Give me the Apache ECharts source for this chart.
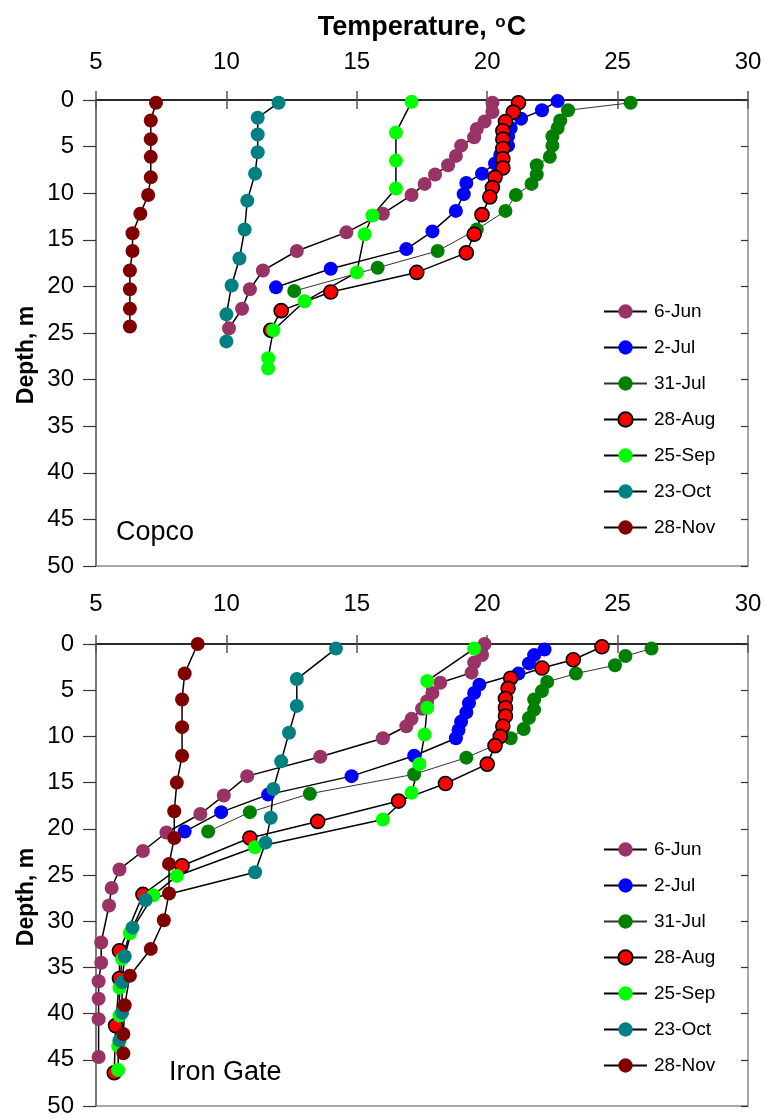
<!DOCTYPE html>
<html>
<head>
<meta charset="utf-8">
<script src="https://cdn.jsdelivr.net/npm/echarts@6/dist/echarts.min.js"></script>
<style>
html,body{margin:0;padding:0;background:#fff;}
#chart{width:765px;height:1118px;}
</style>
</head>
<body>
<div id="chart"></div>
<script>
// ---------- data ----------
const dates = ['6-Jun', '2-Jul', '31-Jul', '28-Aug', '25-Sep', '23-Oct', '28-Nov'];
const xTicks = [5, 10, 15, 20, 25, 30];
const yTicks = [0, 5, 10, 15, 20, 25, 30, 35, 40, 45, 50];

// Copco
const copco_jun06_depth = [0.3,1.3,2.3,3.1,4.0,4.9,6.0,7.0,8.0,9.0,10.2,12.2,14.2,16.2,18.3,20.3,22.4,24.5];
const copco_jun06_temp  = [20.2,20.2,19.9,19.6,19.5,19.0,18.8,18.5,18.0,17.6,17.1,16.0,14.6,12.7,11.4,10.9,10.6,10.1];
const copco_jul02_depth = [0.1,1.1,2.0,3.0,3.9,4.9,5.9,6.8,7.9,8.9,10.1,11.9,14.1,16.0,18.1,20.1];
const copco_jul02_temp  = [22.7,22.1,21.3,20.9,20.8,20.8,20.5,20.3,19.8,19.2,19.1,18.8,17.9,16.9,14.0,11.9];
const copco_jul31_depth = [0.3,1.1,2.2,3.0,3.9,4.9,6.1,7.0,8.0,9.0,10.2,11.9,13.9,16.2,18.0,20.5];
const copco_jul31_temp  = [25.5,23.1,22.8,22.7,22.5,22.5,22.4,21.9,21.9,21.7,21.1,20.7,19.6,18.1,15.8,12.6];
const copco_aug28_depth = [0.3,1.3,2.3,3.3,4.2,5.2,6.3,7.3,8.3,9.4,10.4,12.3,14.4,16.4,18.5,20.6,22.6,24.7];
const copco_aug28_temp  = [21.2,21.0,20.7,20.6,20.6,20.6,20.6,20.6,20.3,20.2,20.1,19.8,19.5,19.2,17.3,14.0,12.1,11.7];
const copco_sep25_depth = [0.2,3.5,6.5,9.5,12.4,14.4,18.5,21.6,24.7,27.7,28.8];
const copco_sep25_temp  = [17.1,16.5,16.5,16.5,15.6,15.3,15.0,13.0,11.8,11.6,11.6];
const copco_oct23_depth = [0.3,1.9,3.7,5.6,7.9,10.8,13.9,17.0,19.9,23.0,25.9];
const copco_oct23_temp  = [12.0,11.2,11.2,11.2,11.1,10.8,10.7,10.5,10.2,10.0,10.0];
const copco_nov28_depth = [0.3,2.2,4.2,6.1,8.3,10.2,12.2,14.3,16.2,18.3,20.3,22.4,24.3];
const copco_nov28_temp  = [7.3,7.1,7.1,7.1,7.1,7.0,6.7,6.4,6.4,6.3,6.3,6.3,6.3];

// Iron Gate
const ig_jun06_depth = [0.0,1.2,2.0,3.1,4.2,5.3,6.2,7.0,8.1,8.9,10.2,12.2,14.3,16.4,18.4,20.4,22.4,24.4,26.4,28.3,32.3,34.5,36.5,38.4,40.6,44.7];
const ig_jun06_temp  = [19.9,19.8,19.5,19.4,18.2,17.9,17.7,17.5,17.1,16.9,16.0,13.6,10.8,9.9,9.0,7.7,6.8,5.9,5.6,5.5,5.2,5.2,5.1,5.1,5.1,5.1];
const ig_jul02_depth = [0.6,1.2,2.1,3.2,4.4,5.3,6.4,7.4,8.4,9.3,10.2,12.1,14.3,16.3,18.2,20.3];
const ig_jul02_temp  = [22.2,21.8,21.6,21.2,19.7,19.5,19.3,19.2,19.0,18.9,18.8,17.2,14.8,11.6,9.8,8.4];
const ig_jul31_depth = [0.5,1.3,2.3,3.2,4.1,5.1,6.0,7.1,8.0,9.2,10.2,12.3,14.1,16.2,18.2,20.3];
const ig_jul31_temp  = [26.3,25.3,24.9,23.4,22.3,22.1,21.8,21.8,21.6,21.4,20.9,19.2,17.2,13.2,10.9,9.3];
const ig_aug28_depth = [0.3,1.7,2.6,3.7,4.8,5.9,6.9,7.8,8.9,10.0,11.0,13.0,15.1,17.0,19.2,21.0,24.0,27.1,33.2,36.2,41.3,46.4];
const ig_aug28_temp  = [24.4,23.3,22.1,20.9,20.8,20.7,20.7,20.7,20.6,20.5,20.3,20.0,18.4,16.6,13.5,10.9,8.3,6.8,5.9,5.9,5.75,5.7];
const ig_sep25_depth = [0.5,4.0,6.9,9.8,13.0,16.1,19.0,22.0,25.1,27.2,31.3,34.1,37.2,40.2,43.5,46.1];
const ig_sep25_temp  = [19.5,17.7,17.7,17.6,17.4,17.1,16.0,11.1,8.1,7.2,6.3,6.0,5.9,5.9,5.85,5.85];
const ig_oct23_depth = [0.5,3.8,6.7,9.6,12.7,15.7,18.8,21.5,24.7,27.7,30.7,33.8,36.6,39.9,42.9];
const ig_oct23_temp  = [14.2,12.7,12.7,12.4,12.1,11.8,11.7,11.5,11.1,6.9,6.4,6.1,6.0,6.0,5.9];
const ig_nov28_depth = [0.0,3.2,6.0,9.0,12.1,15.0,18.1,21.0,23.8,27.0,29.9,33.0,35.9,39.1,42.2,44.3];
const ig_nov28_temp  = [8.9,8.4,8.3,8.3,8.3,8.1,8.0,8.0,7.8,7.8,7.6,7.1,6.3,6.1,6.05,6.05];

// ---------- styling ----------
const FONT = 'Liberation Sans, Arial, sans-serif';
const markerColors = ['#993366', '#0000FF', '#008000', '#FF0000', '#00FF00', '#008080', '#800000'];

const copcoSets = [
  [copco_jun06_temp, copco_jun06_depth], [copco_jul02_temp, copco_jul02_depth],
  [copco_jul31_temp, copco_jul31_depth], [copco_aug28_temp, copco_aug28_depth],
  [copco_sep25_temp, copco_sep25_depth], [copco_oct23_temp, copco_oct23_depth],
  [copco_nov28_temp, copco_nov28_depth]
];
const igSets = [
  [ig_jun06_temp, ig_jun06_depth], [ig_jul02_temp, ig_jul02_depth],
  [ig_jul31_temp, ig_jul31_depth], [ig_aug28_temp, ig_aug28_depth],
  [ig_sep25_temp, ig_sep25_depth], [ig_oct23_temp, ig_oct23_depth],
  [ig_nov28_temp, ig_nov28_depth]
];

function makeSeries(sets, xi, yi) {
  return sets.map(([t, d], i) => ({
    name: dates[i],
    type: 'line',
    xAxisIndex: xi,
    yAxisIndex: yi,
    data: t.map((v, k) => [v, d[k]]),
    symbol: 'circle',
    symbolSize: 14,
    showSymbol: true,
    animation: false,
    lineStyle: i === 2 ? { color: '#333', width: 1 } : { color: '#000', width: 1.5 },
    itemStyle: i === 3
      ? { color: markerColors[i], borderColor: '#000', borderWidth: 1.6 }
      : { color: markerColors[i], borderWidth: 0 },
    emphasis: { disabled: true }
  }));
}

function grid(top, height) {
  return { left: 96, top: top, width: 652, height: height, show: true,
    borderColor: '#8a8a8a', borderWidth: 1.5, backgroundColor: 'transparent' };
}

function xMain(gi, labelMargin) {
  return { type: 'value', gridIndex: gi, position: 'top', min: 5, max: 30, interval: 5,
    axisLine: { show: true, onZero: false, lineStyle: { color: '#000', width: 1.5 } },
    axisTick: { show: true, inside: false, length: 9, lineStyle: { color: '#555', width: 1.5 } },
    axisLabel: { show: true, margin: labelMargin, fontSize: 24, color: '#000', fontFamily: FONT,
      formatter: v => xTicks.includes(v) ? String(v) : '' },
    splitLine: { show: false } };
}
function xInner(gi) {
  return { type: 'value', gridIndex: gi, position: 'top', min: 5, max: 30, interval: 5,
    axisLine: { show: false }, axisLabel: { show: false }, splitLine: { show: false },
    axisTick: { show: true, inside: true, length: 9, lineStyle: { color: '#555', width: 1.5 } } };
}
function yMain(gi) {
  return { type: 'value', gridIndex: gi, inverse: true, min: 0, max: 50, interval: 5,
    axisLine: { show: true, onZero: false, lineStyle: { color: '#7a7a7a', width: 2 } },
    axisTick: { show: true, inside: false, length: 13, lineStyle: { color: '#333', width: 1.2 } },
    axisLabel: { show: true, margin: 22, fontSize: 24, color: '#000', fontFamily: FONT,
      formatter: v => yTicks.includes(v) ? String(v) : '' },
    splitLine: { show: false } };
}
function yInner(gi) {
  return { type: 'value', gridIndex: gi, inverse: true, min: 0, max: 50, interval: 5,
    axisLine: { show: false }, axisLabel: { show: false }, splitLine: { show: false },
    axisTick: { show: true, inside: true, length: 7, lineStyle: { color: '#333', width: 1.2 } } };
}

function legend(top) {
  return { orient: 'vertical', left: 598, top: top, itemWidth: 43, itemHeight: 18, itemGap: 17,
    selectedMode: false, data: dates,
    textStyle: { fontSize: 19, color: '#000', fontFamily: FONT, padding: [0, 0, 0, 2] } };
}

const chart = echarts.init(document.getElementById('chart'), null, { renderer: 'canvas' });
chart.setOption({
  animation: false,
  backgroundColor: '#fff',
  grid: [grid(100, 466), grid(644, 463)],
  xAxis: [xMain(0, 26), xInner(0), xMain(1, 28), xInner(1)],
  yAxis: [yMain(0), yInner(0), yMain(1), yInner(1)],
  legend: [legend(297), legend(835)],
  series: [].concat(makeSeries(copcoSets, 0, 0), makeSeries(igSets, 2, 2)),
  graphic: [
    { type: 'text', x: 422, y: 28, style: { text: 'Temperature, {s|o}C', align: 'center', verticalAlign: 'middle',
        fontSize: 27, fontWeight: 'bold', fontFamily: FONT, fill: '#000',
        rich: { s: { fontSize: 17, fontWeight: 'bold', fontFamily: FONT, verticalAlign: 'top', padding: [0, 1, 12, 1] } } } },
    { type: 'text', x: 27, y: 355, rotation: Math.PI / 2, style: { text: 'Depth, m', align: 'center', verticalAlign: 'middle',
        fontSize: 23, fontWeight: 'bold', fontFamily: FONT, fill: '#000' } },
    { type: 'text', x: 27, y: 897, rotation: Math.PI / 2, style: { text: 'Depth, m', align: 'center', verticalAlign: 'middle',
        fontSize: 23, fontWeight: 'bold', fontFamily: FONT, fill: '#000' } },
    { type: 'text', x: 116, y: 533, style: { text: 'Copco', align: 'left', verticalAlign: 'middle',
        fontSize: 27, fontFamily: FONT, fill: '#000' } },
    { type: 'text', x: 169, y: 1073, style: { text: 'Iron Gate', align: 'left', verticalAlign: 'middle',
        fontSize: 27, fontFamily: FONT, fill: '#000' } }
  ]
});
</script>
</body>
</html>
